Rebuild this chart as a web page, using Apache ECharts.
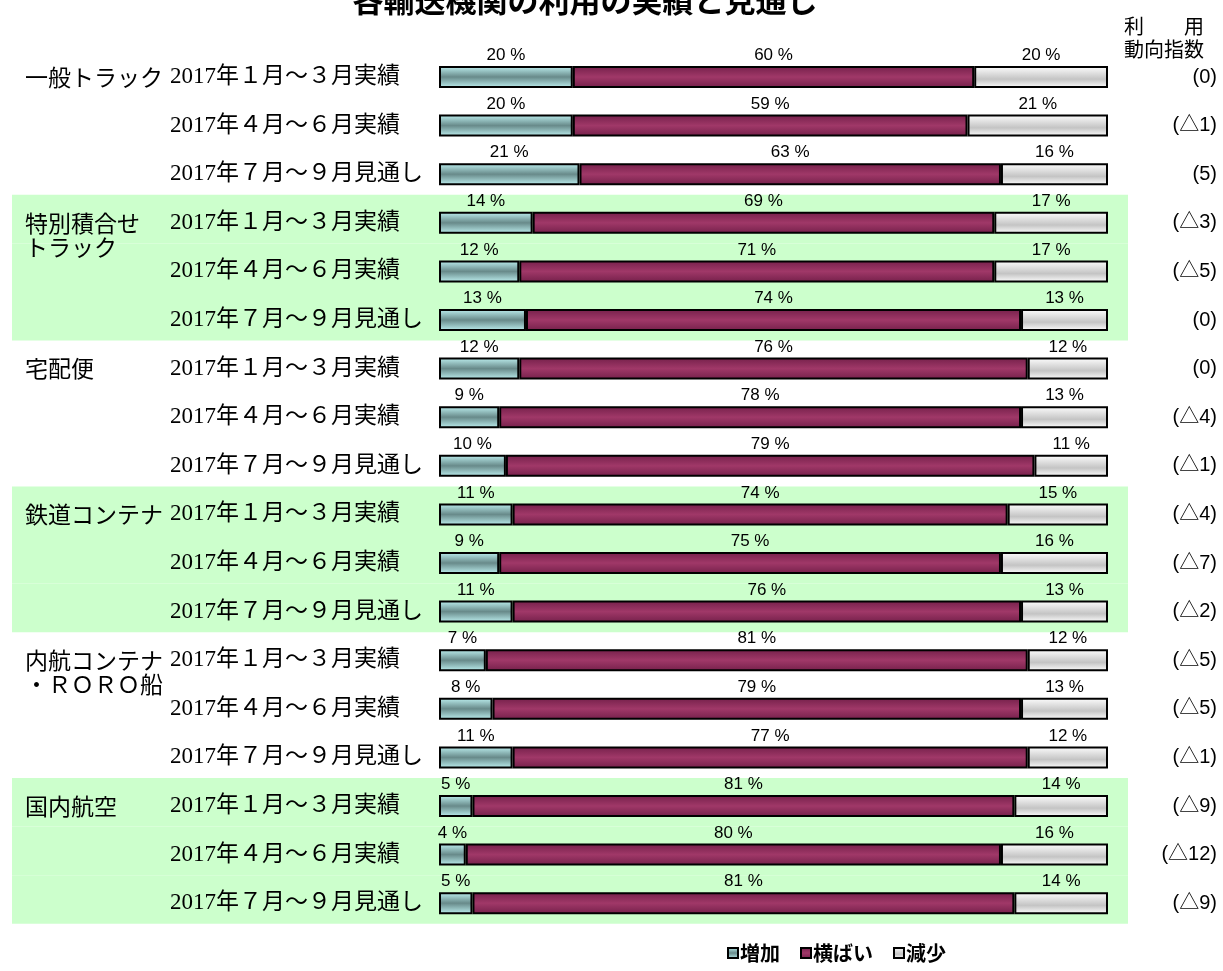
<!DOCTYPE html>
<html><head><meta charset="utf-8">
<script src="https://cdn.jsdelivr.net/npm/echarts@6/dist/echarts.min.js"></script>
<style>html,body{margin:0;padding:0;background:#fff}#c{width:1223px;height:971px}</style>
</head><body><div id="c"></div>
<script>
const groups = ['一般トラック', '特別積合せ\nトラック', '宅配便', '鉄道コンテナ', '内航コンテナ\n・ＲＯＲＯ船', '国内航空'];
const periods = ['2017年１月～３月実績', '2017年４月～６月実績', '2017年７月～９月見通し'];
const shadedGroups = [0, 1, 0, 1, 0, 1];
const increase = [20, 20, 21, 14, 12, 13, 12, 9, 10, 11, 9, 11, 7, 8, 11, 5, 4, 5];
const flat     = [60, 59, 63, 69, 71, 74, 76, 78, 79, 74, 75, 76, 81, 79, 77, 81, 80, 81];
const decrease = [20, 21, 16, 17, 17, 13, 12, 13, 11, 15, 16, 13, 12, 13, 12, 14, 16, 14];
const indexLabels = ['(0)', '(△1)', '(5)', '(△3)', '(△5)', '(0)', '(0)', '(△4)', '(△1)', '(△4)', '(△7)', '(△2)', '(△5)', '(△5)', '(△1)', '(△9)', '(△12)', '(△9)'];
const seriesNames = ['増加', '横ばい', '減少'];

const categories = [];
const shade = [];
groups.forEach((g, gi) => periods.forEach((p, pi) => {
  categories.push(g.replace('\n', '') + '／' + p);
  shade.push(shadedGroups[gi] ? 1 : 0);
}));

const chart = echarts.init(document.getElementById('c'), null, {renderer: 'canvas'});
const G = echarts.graphic.LinearGradient;
const fills = [
  new G(0, 0, 0, 1, [{offset: 0, color: '#bff2f2'}, {offset: 0.5, color: '#688a8a'}, {offset: 1, color: '#bff2f2'}]),
  new G(0, 0, 0, 1, [{offset: 0, color: '#74204a'}, {offset: 0.5, color: '#a03868'}, {offset: 1, color: '#74204a'}]),
  new G(0, 0, 0, 1, [{offset: 0, color: '#ffffff'}, {offset: 0.6, color: '#c4c4c4'}, {offset: 1, color: '#ffffff'}])
];
const values = [increase, flat, decrease];
const sansFont = "'Liberation Sans','Noto Sans CJK JP',sans-serif";
const serifFont = "'Liberation Serif','Noto Sans CJK JP',serif";
const cjkFont = "'Noto Sans CJK JP',sans-serif";

const barSeries = seriesNames.map((n, k) => ({
  name: n, type: 'bar', stack: 'all', xAxisIndex: 0, yAxisIndex: 0,
  barWidth: 22, z: 3,
  itemStyle: {color: fills[k], borderColor: '#000', borderWidth: 2},
  label: {show: true, position: 'top', distance: 2, color: '#000', fontFamily: sansFont, fontSize: 17,
          formatter: p => p.value + ' %'},
  data: values[k]
}));

chart.setOption({
  animation: false,
  backgroundColor: '#fff',
  graphic: [
    {type: 'text', x: 585, y: 0, style: {text: '各輸送機関の利用の実績と見通し', x: 0, y: 0,
      textAlign: 'center', textVerticalAlign: 'middle', font: "bold 31px 'Noto Sans CJK JP'", fill: '#000'}}
  ],
  title: [{
    text: '利　　用\n動向指数', right: 14, top: 10,
    textStyle: {fontFamily: cjkFont, fontWeight: 'normal', fontSize: 20, lineHeight: 23, color: '#000', align: 'right'}
  }],
  legend: {
    data: seriesNames, left: 722, top: 938, itemWidth: 10, itemHeight: 10, itemGap: 20,
    icon: 'rect',
    textStyle: {fontFamily: cjkFont, fontWeight: 'bold', fontSize: 20, color: '#000', padding: [0, 0, 0, -3]}
  },
  grid: [
    {left: 439, right: 115, top: 52.7, height: 874.8},
    {left: 12, right: 95, top: 49, height: 874.8}
  ],
  xAxis: [
    {type: 'value', gridIndex: 0, min: 0, max: 100, show: false},
    {type: 'value', gridIndex: 1, min: 0, max: 1, show: false}
  ],
  yAxis: [
    {type: 'category', gridIndex: 0, inverse: true, data: categories, position: 'left',
     axisLine: {show: false}, axisTick: {show: false}, splitLine: {show: false},
     axisLabel: {
       margin: 414, align: 'left', verticalAlign: 'middle', interval: 0,
       formatter: (v, i) => {
         const gi = Math.floor(i / 3), pi = i % 3;
         const gl = pi === 0 ? groups[gi].split('\n') : [' '];
         const line = '{g|' + gl[0] + '}{p|' + periods[pi] + '}';
         if (gl.length > 1) return '{g| }\n' + line + '\n{g|' + gl[1] + '}';
         return line;
       },
       rich: {
         g: {width: 145, fontFamily: cjkFont, fontSize: 23, lineHeight: 24, color: '#000', align: 'left'},
         p: {fontFamily: serifFont, fontSize: 23, lineHeight: 24, color: '#000'}
       }
     }},
    {type: 'category', gridIndex: 0, inverse: true, data: categories, position: 'right',
     axisLine: {show: false}, axisTick: {show: false}, splitLine: {show: false},
     axisLabel: {margin: 109, align: 'right', interval: 0, fontFamily: sansFont, fontSize: 20, color: '#000',
       formatter: (v, i) => indexLabels[i]}},
    {type: 'category', gridIndex: 1, inverse: true, data: categories, show: false}
  ],
  series: [
    {name: 'shade', type: 'bar', xAxisIndex: 1, yAxisIndex: 2, barCategoryGap: '0%', z: 0, silent: true,
     itemStyle: {color: '#ccffcc'}, data: shade, legendHoverLink: false},
    ...barSeries
  ]
});
</script></body></html>
